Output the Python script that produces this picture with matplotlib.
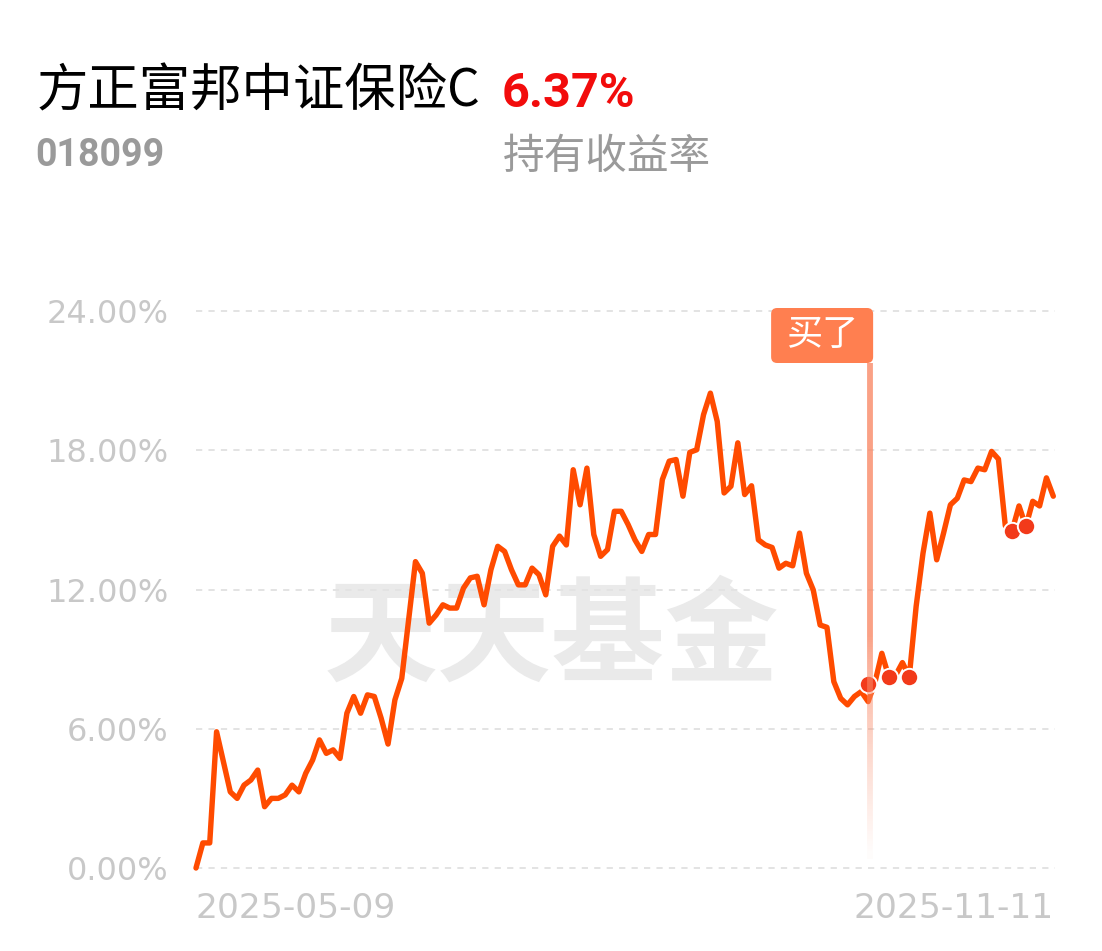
import matplotlib
matplotlib.use("Agg")
import matplotlib.pyplot as plt
import numpy as np
from matplotlib.patches import FancyBboxPatch
from matplotlib.collections import LineCollection
from matplotlib.transforms import IdentityTransform

# ---------------- data ----------------
fund_name = "方正富邦中证保险C"
fund_code = "018099"
holding_return = "6.37%"
holding_label = "持有收益率"
watermark_text = "天天基金"
buy_label = "买了"
date_labels = ["2025-05-09", "2025-11-11"]
n_days = 126  # trading days between the two dates (index 0..125)

y_ticks = [0, 6, 12, 18, 24]
y_tick_labels = ["0.00%", "6.00%", "12.00%", "18.00%", "24.00%"]

# trading-day index and cumulative return (%) at each turning point of the line
day_idx = [0, 1, 2, 3, 5, 6, 7, 8, 9, 10, 11, 12, 13, 14, 15, 16, 17, 18, 19, 20,
           21, 22, 23, 24, 25, 26, 27, 28, 29, 30, 32, 33, 34, 35, 36, 37, 38, 39, 40, 41,
           42, 43, 44, 45, 46, 47, 48, 49, 50, 51, 52, 53, 54, 55, 56, 57, 58, 59, 60, 61,
           62, 63, 64, 65, 66, 67, 68, 69, 70, 71, 72, 73, 74, 75, 76, 77, 78, 79, 80, 81,
           82, 83, 84, 85, 86, 87, 88, 89, 90, 91, 92, 93, 94, 95, 96, 97, 98, 99, 100, 101,
           102, 103, 104, 105, 106, 107, 108, 109, 110, 111, 112, 113, 114, 115, 116, 117, 118, 119, 120, 121,
           122, 123, 124, 125]
ret_pct = [0.00, 1.08, 1.08, 5.87, 3.28, 3.00, 3.57, 3.79, 4.22, 2.64, 3.00, 3.00, 3.15, 3.57, 3.28, 4.08, 4.65, 5.52, 4.94, 5.09,
           4.72, 6.67, 7.39, 6.67, 7.46, 7.39, 6.45, 5.34, 7.24, 8.17, 13.20, 12.70, 10.55, 10.90, 11.34, 11.20, 11.20, 12.06, 12.50, 12.57,
           11.34, 12.85, 13.86, 13.64, 12.85, 12.20, 12.20, 12.92, 12.64, 11.77, 13.86, 14.30, 13.92, 17.16, 15.65, 17.23, 14.37, 13.43, 13.72, 15.37,
           15.37, 14.80, 14.14, 13.64, 14.37, 14.37, 16.74, 17.53, 17.60, 16.02, 17.91, 18.02, 19.53, 20.46, 19.24, 16.16, 16.45, 18.32, 16.09, 16.47,
           14.14, 13.92, 13.81, 12.92, 13.13, 13.02, 14.43, 12.70, 11.98, 10.47, 10.37, 8.03, 7.31, 7.03, 7.39, 7.60, 7.17, 8.00, 9.25, 8.25,
           8.30, 8.85, 8.25, 11.27, 13.56, 15.29, 13.28, 14.43, 15.65, 15.93, 16.72, 16.65, 17.23, 17.16, 17.95, 17.62, 14.75, 14.54, 15.60, 14.72,
           15.80, 15.60, 16.81, 16.02]

buy_idx = 98
trade_idx = [98, 101, 104, 119, 121]
trade_pct = [7.93, 8.25, 8.25, 14.54, 14.72]

# ---------------- style ----------------
W, H, DPI = 1102, 951, 100
LINE_C = "#FF4B00"
DOT_C = "#F23A1A"
BUY_C = "#FF7F50"
GRID_C = "#E3E3E3"
TICK_C = "#C8C8C8"
CJK = ["Noto Sans CJK SC", "DejaVu Sans"]

plt.rcParams["font.family"] = CJK

fig = plt.figure(figsize=(W / DPI, H / DPI), dpi=DPI, facecolor="white")
ax_l, ax_r, ax_t, ax_b = 196, 1053.3, 311, 868
ax = fig.add_axes([ax_l / W, 1 - ax_b / H, (ax_r - ax_l) / W, (ax_b - ax_t) / H])
ax.set_xlim(0, n_days - 1)
ax.set_ylim(y_ticks[0], y_ticks[-1])
for s in ax.spines.values():
    s.set_visible(False)
ax.set_facecolor("none")

# grid
for yv in y_ticks:
    ax.axhline(yv, xmin=0, xmax=1.002, color=GRID_C, lw=1.4, dashes=(3.2, 3.2), zorder=1, clip_on=False)

# ticks
ax.set_yticks(y_ticks)
ax.set_yticklabels(y_tick_labels, family="DejaVu Sans", fontsize=23, color=TICK_C)
ax.set_xticks([0, n_days - 1])
ax.set_xticklabels(date_labels, family="DejaVu Sans", fontsize=24.8, color=TICK_C)
ax.tick_params(axis="y", length=0, pad=20)
ax.tick_params(axis="x", length=0, pad=17)
xl = ax.get_xticklabels()
xl[0].set_ha("left")
xl[1].set_ha("right")

# watermark
ax.text(0.415, 0.41, watermark_text, transform=ax.transAxes, ha="center", va="center",
        fontsize=82, fontweight="bold", color="#EAEAEA", family=CJK, zorder=0)

# buy marker: vertical fading line
x_buy_disp = ax.transData.transform((buy_idx, 0))[0] + 2
y_top_disp = ax.transData.transform((0, y_ticks[-1]))[1]
y_bot_disp = ax.transData.transform((0, 0.4))[1]
box_w, box_h = 102, 55
box_right = x_buy_disp + 3
box_top = y_top_disp + 3
box_bottom = box_top - box_h
ys = np.linspace(box_bottom, y_bot_disp, 200)
segs = [[(x_buy_disp, ys[i]), (x_buy_disp, ys[i + 1])] for i in range(len(ys) - 1)]
frac = (box_bottom - ys[:-1]) / (box_bottom - y_bot_disp)
alphas = np.clip(1.0 - np.clip((frac - 0.55) / 0.45, 0, 1) ** 0.8, 0.03, 1.0) * 0.8
cols = [matplotlib.colors.to_rgba("#F98A68", a) for a in alphas]
lc = LineCollection(segs, colors=cols, linewidths=4.2, transform=IdentityTransform(), zorder=2)
fig.add_artist(lc)

box = FancyBboxPatch((box_right - box_w, box_bottom), box_w, box_h,
                     boxstyle="round,pad=0,rounding_size=6", fc=BUY_C, ec="none",
                     transform=IdentityTransform(), zorder=5)
fig.add_artist(box)
fig.text((box_right - box_w / 2) / W, (box_bottom + box_h / 2) / H, buy_label,
         ha="center", va="center", fontsize=26, color="white", family=CJK, zorder=6)

# main line
ax.plot(day_idx, ret_pct, color=LINE_C, lw=3.9, solid_joinstyle="round", solid_capstyle="round",
        zorder=3, clip_on=False)
# trade markers
ax.plot(trade_idx, trade_pct, ls="none", marker="o", ms=12.5, mfc=DOT_C, mec="white", mew=1.4,
        zorder=4, clip_on=False)

# header
fig.text(37 / W, 1 - 92 / H, fund_name, ha="left", va="center", fontsize=37, color="black", family=CJK)
fig.text(502 / W, 1 - 94 / H, holding_return, ha="left", va="center", fontsize=35, color="#F20C0C",
         fontweight="bold", family="Roboto")
fig.text(35 / W, 1 - 155 / H, fund_code, ha="left", va="center", fontsize=27, color="#9A9A9A",
         fontweight="bold", family="Roboto")
fig.text(503 / W, 1 - 158 / H, holding_label, ha="left", va="center", fontsize=30, color="#9A9A9A", family=CJK)

fig.savefig("out.png", dpi=DPI, facecolor="white")
